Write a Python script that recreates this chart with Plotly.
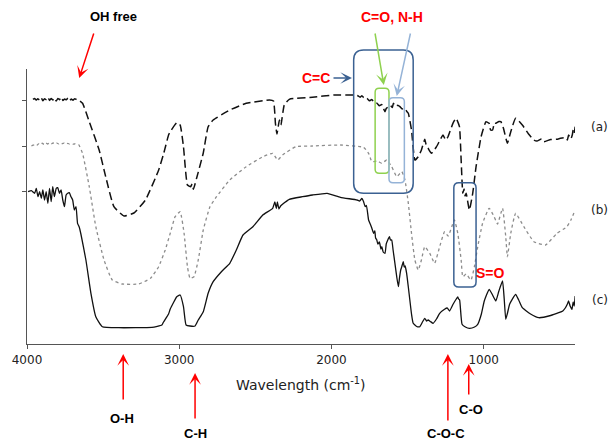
import plotly.graph_objects as go

# ---------------------------------------------------------------------------
# FTIR spectra (offset transmittance, arbitrary units) vs wavenumber (cm-1)
# ---------------------------------------------------------------------------
wn_a = [3961, 3950, 3940, 3929, 3918, 3907, 3896, 3885, 3874, 3863, 3852, 3841,
        3830, 3819, 3808, 3797, 3786, 3775, 3764, 3753, 3742, 3731, 3720, 3709,
        3698, 3687, 3676, 3665, 3657, 3635, 3591, 3526, 3483, 3429, 3363, 3298,
        3222, 3135, 3103, 3070, 3059, 3016, 2994, 2972, 2946, 2925, 2915, 2907,
        2886, 2842, 2810, 2777, 2668, 2560, 2407, 2381, 2368, 2358, 2342, 2332,
        2310, 2277, 2125, 1984, 1854, 1830, 1812, 1800, 1785, 1767, 1750, 1735,
        1718, 1700, 1685, 1670, 1660, 1648, 1640, 1626, 1612, 1600, 1593, 1580,
        1565, 1550, 1535, 1519, 1505, 1495, 1474, 1452, 1430, 1409, 1387, 1376,
        1365, 1343, 1311, 1290, 1267, 1250, 1235, 1202, 1181, 1159, 1148, 1137,
        1129, 1122, 1115, 1094, 1072, 1050, 1017, 985, 964, 955, 941, 930, 920,
        900, 887, 870, 844, 822, 790, 746, 705, 670, 650, 620, 605, 560, 520,
        496, 460, 450, 442, 427, 418, 412, 405, 399]
t_a = [244.7, 245.6, 243.9, 245.2, 244.1, 246.4, 243.2, 245.3, 244.4, 247.0, 243.6, 245.4,
       244.0, 246.2, 242.9, 245.6, 244.3, 246.9, 243.5, 245.1, 244.2, 246.0, 243.4, 244.9,
       243.8, 245.3, 244.6, 244.0, 243.5, 240.7, 222.3, 194.0, 167.3, 137.3, 128.0, 131.0,
       144.0, 174.0, 190.0, 209.0, 212.3, 221.3, 219.0, 197.3, 159.0, 157.3, 160.0, 154.7,
       165.7, 191.0, 217.3, 224.0, 234.0, 240.7, 244.0, 243.0, 220.7, 210.0, 224.0, 219.0,
       239.0, 244.7, 246.7, 249.0, 249.0, 248.5, 246.8, 248.2, 245.9, 245.7, 243.2, 244.6,
       241.3, 240.7, 238.2, 239.5, 236.0, 232.3, 235.5, 237.0, 238.5, 236.5, 240.7, 237.5,
       238.8, 237.3, 235.0, 236.0, 232.5, 230.7, 214.0, 184.0, 187.3, 194.0, 204.7, 198.0,
       195.7, 190.7, 197.0, 203.0, 209.0, 204.0, 207.0, 220.7, 225.7, 217.3, 184.0, 150.7,
       155.0, 148.0, 150.7, 134.0, 150.7, 177.3, 207.3, 222.3, 220.7, 214.0, 214.0, 221.0, 220.7,
       222.5, 222.3, 215.7, 200.7, 212.3, 225.7, 219.0, 210.0, 204.0, 203.0, 205.0, 202.3, 204.5, 204.8,
       205.7, 206.5, 204.0, 209.0, 205.0, 209.0, 214.0, 211.0, 217.3]

wn_b = [3971, 3960, 3948, 3936, 3924, 3912, 3900, 3888, 3876, 3864, 3852, 3840,
        3828, 3816, 3804, 3792, 3780, 3768, 3756, 3744, 3732, 3720, 3708, 3696,
        3684, 3672, 3660, 3635, 3591, 3548, 3494, 3440, 3374, 3266, 3189, 3135,
        3092, 3059, 3027, 2994, 2968, 2946, 2929, 2903, 2875, 2842, 2798, 2755,
        2668, 2560, 2451, 2386, 2353, 2321, 2234, 2125, 1941, 1789, 1756, 1734,
        1700, 1669, 1637, 1604, 1571, 1538, 1517, 1495, 1474, 1452, 1430, 1409,
        1387, 1354, 1322, 1289, 1257, 1233, 1202, 1192, 1170, 1148, 1137, 1115,
        1083, 1061, 1039, 1007, 964, 931, 909, 876, 855, 844, 822, 790, 736,
        670, 594, 518, 453, 427, 399]
t_b = [198.0, 198.8, 199.5, 198.6, 200.2, 199.1, 200.8, 199.6, 201.2, 200.0, 201.5, 200.3,
       201.0, 199.8, 200.9, 200.1, 201.3, 200.4, 200.9, 199.7, 200.6, 199.9, 200.5, 199.8,
       200.2, 199.5, 199.2, 190.7, 157.3, 117.3, 84.0, 64.0, 60.0, 60.0, 65.7, 77.3,
       94.0, 110.7, 127.3, 132.3, 110.7, 77.3, 65.7, 67.3, 84.0, 114.0, 137.3, 147.3,
       164.0, 177.3, 187.3, 190.7, 184.0, 189.0, 197.3, 198.0, 199.0, 196.7, 190.7, 182.3,
       183.0, 180.7, 184.0, 177.3, 167.3, 172.3, 164.0, 140.7, 110.7, 84.0, 74.0, 84.0,
       97.3, 90.7, 80.7, 97.3, 112.3, 108.0, 120.7, 124.0, 110.7, 84.0, 67.3, 70.0,
       64.0, 77.3, 97.3, 120.7, 135.7, 127.3, 120.0, 135.7, 107.3, 87.3, 110.7, 130.7, 117.3,
       102.3, 99.0, 110.7, 117.3, 124.0, 134.0]

wn_c = [3993, 3971, 3950, 3939, 3928, 3917, 3906, 3896, 3885, 3874, 3863, 3852,
        3841, 3831, 3820, 3808, 3798, 3787, 3776, 3765, 3754, 3743, 3733, 3722,
        3711, 3700, 3689, 3678, 3668, 3657, 3646, 3613, 3580, 3548, 3505, 3396,
        3179, 3114, 3103, 3070, 3059, 3016, 2994, 2972, 2955, 2929, 2896, 2875,
        2842, 2810, 2777, 2723, 2668, 2625, 2581, 2516, 2451, 2386, 2372, 2362,
        2355, 2345, 2334, 2277, 2190, 2125, 2028, 1941, 1832, 1815, 1800, 1790,
        1778, 1770, 1756, 1745, 1735, 1723, 1715, 1710, 1702, 1695, 1685, 1675,
        1669, 1660, 1648, 1640, 1630, 1619, 1612, 1604, 1595, 1583, 1570, 1560,
        1553, 1545, 1538, 1528, 1522, 1516, 1506, 1495, 1485, 1474, 1463, 1440,
        1420, 1402, 1387, 1375, 1365, 1350, 1332, 1310, 1289, 1257, 1240, 1224,
        1200, 1180, 1170, 1165, 1158, 1142, 1120, 1094, 1060, 1039, 1015, 996,
        964, 945, 920, 900, 876, 865, 855, 845, 829, 790, 770, 746, 692, 638,
        560, 507, 480, 464, 450, 442, 432, 420, 412, 405, 399]
t_c = [152.3, 153.3, 150.7, 155.7, 147.3, 152.3, 145.7, 154.0, 144.0, 152.3, 140.7, 155.7,
       142.3, 157.3, 147.3, 155.7, 156.3, 150.7, 154.0, 144.0, 137.3, 149.0, 150.7, 151.3,
       147.3, 144.0, 134.0, 137.3, 120.7, 117.0, 110.0, 84.0, 50.7, 27.3, 17.3, 16.3,
       16.7, 19.0, 22.0, 30.0, 35.0, 47.3, 49.0, 37.3, 19.0, 18.0, 18.0, 24.0,
       32.3, 50.7, 62.3, 72.3, 80.7, 94.0, 109.0, 117.3, 129.0, 135.7, 142.0, 135.5,
       142.0, 135.0, 138.0, 144.7, 147.3, 149.0, 150.7, 146.7, 144.0, 143.0, 145.5, 142.8,
       137.3, 138.5, 124.0, 120.0, 116.0, 110.7, 113.0, 106.0, 104.0, 100.0, 102.0, 95.0,
       97.3, 92.0, 90.7, 100.0, 104.0, 107.3, 104.0, 104.0, 94.0, 80.7, 66.0, 57.3,
       66.0, 74.0, 77.3, 82.3, 77.0, 78.0, 70.7, 57.0, 44.0, 30.0, 20.7, 17.5,
       17.3, 22.0, 25.7, 23.0, 24.0, 22.5, 20.7, 25.0, 30.7, 34.7, 36.0, 33.0,
       40.0, 45.0, 47.0, 45.0, 44.0, 19.7, 17.0, 15.7, 17.0, 19.7, 30.0, 43.0,
       54.7, 50.0, 43.0, 53.0, 63.0, 45.0, 24.7, 30.0, 40.0, 49.7, 44.0, 36.3, 30.0, 26.3,
       28.5, 31.3, 33.0, 36.0, 40.0, 43.0, 38.0, 34.7, 42.0, 38.0, 48.0]

x_ticks = [4000, 3000, 2000, 1000]
y_ticks = [153, 198, 244]          # baseline of each offset spectrum
X_RANGE = [4000, 400]
Y_RANGE = [0, 275]

# plot area geometry (px)
W, H = 611, 442
ML, MR, MT, MB = 22, 36, 69, 98
PW, PH = W - ML - MR, H - MT - MB

RED = "#FF0000"
NAVY = "#3B6192"
GREEN = "#8FD14F"
LIGHT_BLUE = "#95B3D7"


def xp(wn):
    """wavenumber -> paper x"""
    return (X_RANGE[0] - wn) / (X_RANGE[0] - X_RANGE[1])


def yp(t):
    """transmittance unit -> paper y"""
    return (t - Y_RANGE[0]) / (Y_RANGE[1] - Y_RANGE[0])


fig = go.Figure()
fig.add_trace(go.Scatter(x=wn_a, y=t_a, mode="lines", name="(a)",
                         line=dict(color="#111111", width=1.5, dash="8px,4px",
                                   shape="spline", smoothing=0.4)))
fig.add_trace(go.Scatter(x=wn_b, y=t_b, mode="lines", name="(b)",
                         line=dict(color="#8c8c8c", width=1.3, dash="dot",
                                   shape="spline", smoothing=0.4)))
fig.add_trace(go.Scatter(x=wn_c, y=t_c, mode="lines", name="(c)",
                         line=dict(color="#111111", width=1.3,
                                   shape="spline", smoothing=0.4)))


def rounded_box(w0, w1, t_top, t_bot, color, r=8, width=1.5):
    x0, x1 = xp(w0), xp(w1)
    y0, y1 = yp(t_bot), yp(t_top)
    rx, ry = r / PW, r / PH
    path = (f"M{x0 + rx},{y1} L{x1 - rx},{y1} Q{x1},{y1} {x1},{y1 - ry} "
            f"L{x1},{y0 + ry} Q{x1},{y0} {x1 - rx},{y0} "
            f"L{x0 + rx},{y0} Q{x0},{y0} {x0},{y0 + ry} "
            f"L{x0},{y1 - ry} Q{x0},{y1} {x0 + rx},{y1} Z")
    fig.add_shape(type="path", path=path, xref="paper", yref="paper",
                  line=dict(color=color, width=width), fillcolor="rgba(0,0,0,0)")


rounded_box(1854, 1463, 294, 150.7, NAVY, r=10)
rounded_box(1713, 1622, 255.7, 170.7, GREEN, r=4)
rounded_box(1622, 1521, 246.3, 161.3, LIGHT_BLUE, r=4)
rounded_box(1196, 1050, 161.3, 57, NAVY, r=5)


def arrow(wn, t, dx, dy, color):
    fig.add_annotation(x=xp(wn), y=yp(t), xref="paper", yref="paper",
                       ax=dx, ay=dy, text="", showarrow=True,
                       arrowhead=3, arrowsize=1.3, arrowwidth=1.5,
                       arrowcolor=color, standoff=0)


def label(wn, t, text, color="#000000", size=13, bold=True,
          family="Liberation Sans, Arial, sans-serif"):
    fig.add_annotation(x=xp(wn), y=yp(t), xref="paper", yref="paper",
                       text=f"<b>{text}</b>" if bold else text, showarrow=False,
                       xanchor="center", yanchor="middle",
                       font=dict(family=family, size=size, color=color))


# band assignments above the spectra
arrow(3657, 266, 15, -46, RED)
label(3435, 328, "OH free", size=13)
arrow(1865, 266, -20, 0, NAVY)
label(2099, 266, "C=C", color=RED, size=14)
label(1604, 327, "C=O, N-H", color=RED, size=14)
arrow(1656, 259, -9, -53, GREEN)
arrow(1571, 248, 14, -64, LIGHT_BLUE)
label(953, 71.5, "S=O", color=RED, size=14)

# sample labels
for t, s in [(217, "(a)"), (134, "(b)"), (44, "(c)")]:
    label(236, t, s, color="#222222", size=12, bold=False,
          family="DejaVu Sans, sans-serif")

# band assignments below the axis
arrow(3368, -10, 0, 47, RED)
label(3376, -74, "O-H", size=13)
arrow(2896, -29, 0, 47, RED)
label(2894, -89, "C-H", size=13)
arrow(1235, -10, 0, 68, RED)
label(1246, -90, "C-O-C", size=13)
arrow(1098, -20, 0, 32, RED)
label(1083, -65, "C-O", size=13)

label(2200, -40, "Wavelength (cm<sup>-1</sup>)", color="#222222", size=14,
      bold=False, family="DejaVu Sans, sans-serif")

fig.update_layout(
    width=W, height=H,
    margin=dict(l=ML, r=MR, t=MT, b=MB),
    plot_bgcolor="white", paper_bgcolor="white",
    showlegend=False,
    xaxis=dict(range=X_RANGE, tickvals=x_ticks, ticks="outside", ticklen=4,
               tickcolor="#555555", showline=True, linecolor="#555555",
               linewidth=1.3, showgrid=False, zeroline=False,
               tickfont=dict(family="DejaVu Sans, sans-serif", size=12,
                             color="#222222")),
    yaxis=dict(range=Y_RANGE, tickvals=y_ticks, showticklabels=False,
               ticks="outside", ticklen=4, tickcolor="#555555",
               showline=True, linecolor="#555555", linewidth=1.3,
               showgrid=False, zeroline=False),
)

fig.write_html("out.html")
